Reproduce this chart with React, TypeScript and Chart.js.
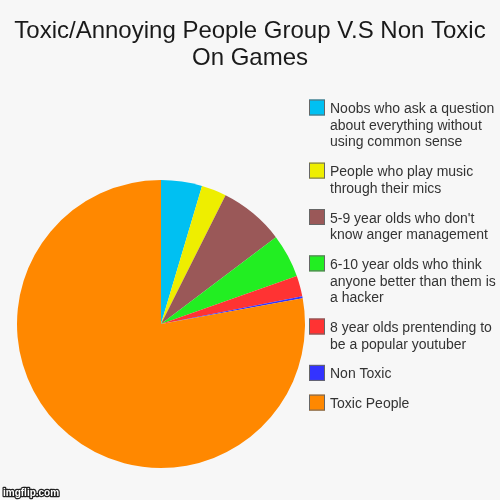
import { Chart, registerables } from 'chart.js'
import { useEffect, useRef } from 'react'

Chart.register(...registerables)

// 标题和数据
const titleLines = ['Toxic/Annoying People Group V.S Non Toxic', 'On Games']
const labels = [
  ['Noobs who ask a question', 'about everything without', 'using common sense'],
  ['People who play music', 'through their mics'],
  ["5-9 year olds who don't", 'know anger management'],
  ['6-10 year olds who think', 'anyone better than them is', 'a hacker'],
  ['8 year olds prentending to', 'be a popular youtuber'],
  ['Non Toxic'],
  ['Toxic People']
]
const values = [4.6, 2.8, 7.3, 4.9, 2.3, 0.25, 77.85]
const colors = ['#00c0f2', '#eeee00', '#9a5858', '#22ee22', '#ff3333', '#3333ff', '#ff8800']
const watermark = 'imgflip.com'

const BG = '#f7f7f7'

// 自定义标题、图例和水印
const decorPlugin = {
  id: 'decor',
  beforeDraw(chart: any) {
    const { ctx, width, height } = chart
    ctx.save()
    ctx.fillStyle = BG
    ctx.fillRect(0, 0, width, height)
    ctx.restore()
  },
  afterDraw(chart: any) {
    const { ctx, width } = chart
    ctx.save()
    // 标题
    ctx.fillStyle = '#1a1a1a'
    ctx.font = '24px "Liberation Sans", Arial, sans-serif'
    ctx.textAlign = 'center'
    ctx.textBaseline = 'alphabetic'
    titleLines.forEach((line, i) => {
      ctx.fillText(line, width / 2, 38 + i * 26.6)
    })

    // 图例
    const lineH = 16.7
    let y = 99.5
    ctx.font = '14px "Liberation Sans", Arial, sans-serif'
    ctx.textAlign = 'left'
    labels.forEach((lines, i) => {
      ctx.fillStyle = colors[i]
      ctx.fillRect(309, y, 16, 16)
      ctx.strokeStyle = '#666'
      ctx.lineWidth = 1
      ctx.strokeRect(309.5, y + 0.5, 15, 15)
      ctx.fillStyle = '#333'
      lines.forEach((t, j) => {
        ctx.fillText(t, 330, y + 13.5 + j * lineH)
      })
      y += lines.length * lineH + 13
    })

    // 水印
    ctx.font = 'bold 10px "Liberation Sans", Arial, sans-serif'
    ctx.lineWidth = 2.5
    ctx.strokeStyle = '#222'
    ctx.lineJoin = 'round'
    ctx.strokeText(watermark, 3, 496)
    ctx.fillStyle = '#fff'
    ctx.fillText(watermark, 3, 496)
    ctx.restore()
  }
}

const App = () => {
  const chartRef = useRef<HTMLCanvasElement | null>(null)

  useEffect(() => {
    const ctx = chartRef.current?.getContext('2d')
    if (!ctx) return

    const chart = new Chart(ctx, {
      type: 'pie',
      data: {
        labels: labels.map((l) => l.join(' ')),
        datasets: [
          {
            data: values,
            backgroundColor: colors,
            borderWidth: 0
          }
        ]
      },
      options: {
        responsive: false,
        animation: false,
        devicePixelRatio: 1,
        layout: {
          padding: { left: 17, right: 195, top: 180, bottom: 32 }
        },
        plugins: {
          legend: { display: false },
          title: { display: false },
          tooltip: { enabled: false }
        }
      },
      plugins: [decorPlugin]
    })

    return () => {
      chart.destroy()
    }
  }, [])

  return (
    <div style={{ position: 'fixed', left: 0, top: 0, width: 500, height: 500 }}>
      <canvas ref={chartRef} width={500} height={500} style={{ width: 500, height: 500 }} />
    </div>
  )
}

export default App
